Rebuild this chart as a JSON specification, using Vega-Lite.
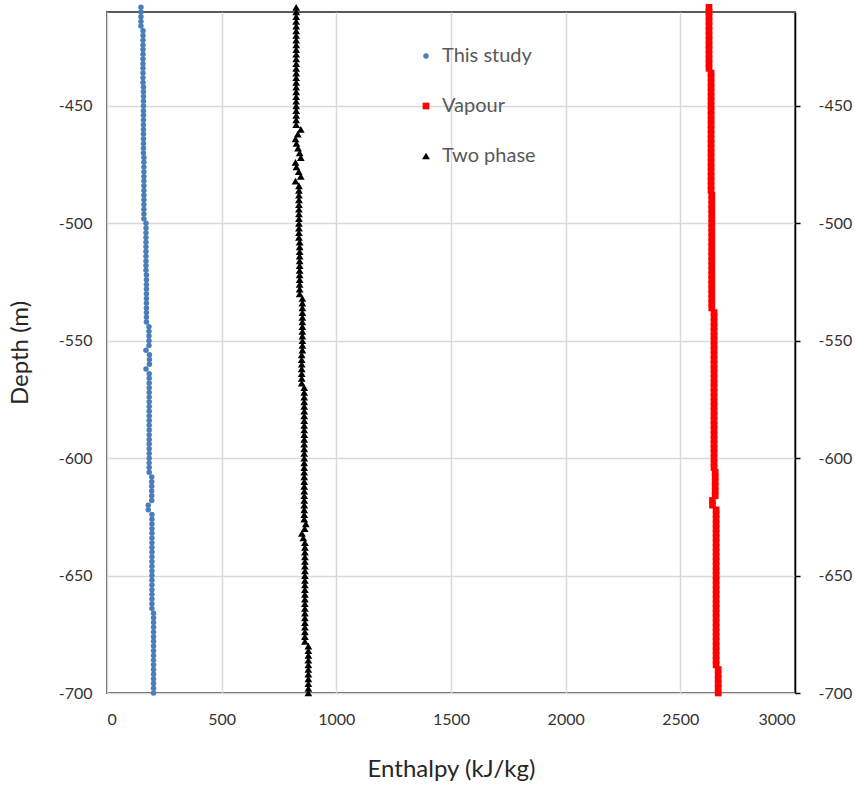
{
"$schema": "https://vega.github.io/schema/vega-lite/v6.json",
"width": 688, "height": 681,
"autosize": "none",
"padding": {"left": 107, "top": 12, "right": 60, "bottom": 94},
"background": "white",
"config": {
  "font": "Lato",
  "locale": {"number": {"decimal": ".", "thousands": "", "grouping": [3], "currency": ["$", ""], "minus": "-"}},
  "view": {"stroke": "#595959", "strokeWidth": 2},
  "axis": {"labelFont": "Lato", "titleFont": "Lato", "labelFontSize": 16, "labelColor": "#333333", "titleFontSize": 24, "titleFontWeight": "normal", "titleColor": "#262626", "gridColor": "#d9d9d9", "gridWidth": 1.5}
},
"data": {"values": [
{"d":-408,"This study":148,"Vapour":2625,"Two phase":825},
{"d":-410,"This study":148,"Vapour":2625,"Two phase":825},
{"d":-412,"This study":148,"Vapour":2625,"Two phase":825},
{"d":-414,"This study":148,"Vapour":2625,"Two phase":825},
{"d":-416,"This study":148,"Vapour":2625,"Two phase":825},
{"d":-418,"This study":157,"Vapour":2625,"Two phase":825},
{"d":-420,"This study":157,"Vapour":2625,"Two phase":825},
{"d":-422,"This study":157,"Vapour":2625,"Two phase":825},
{"d":-424,"This study":157,"Vapour":2625,"Two phase":825},
{"d":-426,"This study":157,"Vapour":2625,"Two phase":825},
{"d":-428,"This study":157,"Vapour":2625,"Two phase":825},
{"d":-430,"This study":157,"Vapour":2625,"Two phase":825},
{"d":-432,"This study":157,"Vapour":2625,"Two phase":825},
{"d":-434,"This study":157,"Vapour":2625,"Two phase":825},
{"d":-436,"This study":157,"Vapour":2634,"Two phase":825},
{"d":-438,"This study":157,"Vapour":2634,"Two phase":825},
{"d":-440,"This study":157,"Vapour":2634,"Two phase":825},
{"d":-442,"This study":159,"Vapour":2634,"Two phase":825},
{"d":-444,"This study":159,"Vapour":2634,"Two phase":825},
{"d":-446,"This study":159,"Vapour":2634,"Two phase":825},
{"d":-448,"This study":159,"Vapour":2634,"Two phase":825},
{"d":-450,"This study":159,"Vapour":2634,"Two phase":825},
{"d":-452,"This study":159,"Vapour":2634,"Two phase":825},
{"d":-454,"This study":159,"Vapour":2634,"Two phase":825},
{"d":-456,"This study":159,"Vapour":2634,"Two phase":825},
{"d":-458,"This study":159,"Vapour":2634,"Two phase":825},
{"d":-460,"This study":159,"Vapour":2634,"Two phase":845},
{"d":-462,"This study":159,"Vapour":2634,"Two phase":832},
{"d":-464,"This study":159,"Vapour":2634,"Two phase":822},
{"d":-466,"This study":159,"Vapour":2634,"Two phase":826},
{"d":-468,"This study":159,"Vapour":2634,"Two phase":833},
{"d":-470,"This study":159,"Vapour":2634,"Two phase":840},
{"d":-472,"This study":161,"Vapour":2634,"Two phase":845},
{"d":-474,"This study":161,"Vapour":2634,"Two phase":822},
{"d":-476,"This study":161,"Vapour":2634,"Two phase":826},
{"d":-478,"This study":161,"Vapour":2634,"Two phase":836},
{"d":-480,"This study":161,"Vapour":2634,"Two phase":845},
{"d":-482,"This study":161,"Vapour":2634,"Two phase":822},
{"d":-484,"This study":161,"Vapour":2634,"Two phase":837},
{"d":-486,"This study":161,"Vapour":2634,"Two phase":837},
{"d":-488,"This study":161,"Vapour":2637,"Two phase":837},
{"d":-490,"This study":161,"Vapour":2637,"Two phase":837},
{"d":-492,"This study":161,"Vapour":2637,"Two phase":837},
{"d":-494,"This study":161,"Vapour":2637,"Two phase":837},
{"d":-496,"This study":161,"Vapour":2637,"Two phase":837},
{"d":-498,"This study":161,"Vapour":2637,"Two phase":837},
{"d":-500,"This study":170,"Vapour":2637,"Two phase":837},
{"d":-502,"This study":170,"Vapour":2637,"Two phase":837},
{"d":-504,"This study":170,"Vapour":2637,"Two phase":837},
{"d":-506,"This study":170,"Vapour":2637,"Two phase":837},
{"d":-508,"This study":170,"Vapour":2637,"Two phase":840},
{"d":-510,"This study":170,"Vapour":2637,"Two phase":840},
{"d":-512,"This study":170,"Vapour":2637,"Two phase":840},
{"d":-514,"This study":170,"Vapour":2637,"Two phase":840},
{"d":-516,"This study":170,"Vapour":2637,"Two phase":840},
{"d":-518,"This study":170,"Vapour":2637,"Two phase":840},
{"d":-520,"This study":170,"Vapour":2637,"Two phase":840},
{"d":-522,"This study":172,"Vapour":2637,"Two phase":840},
{"d":-524,"This study":172,"Vapour":2637,"Two phase":840},
{"d":-526,"This study":172,"Vapour":2637,"Two phase":840},
{"d":-528,"This study":172,"Vapour":2637,"Two phase":840},
{"d":-530,"This study":172,"Vapour":2637,"Two phase":840},
{"d":-532,"This study":172,"Vapour":2637,"Two phase":852},
{"d":-534,"This study":172,"Vapour":2637,"Two phase":852},
{"d":-536,"This study":172,"Vapour":2637,"Two phase":852},
{"d":-538,"This study":172,"Vapour":2647,"Two phase":852},
{"d":-540,"This study":172,"Vapour":2647,"Two phase":852},
{"d":-542,"This study":172,"Vapour":2647,"Two phase":852},
{"d":-544,"This study":183,"Vapour":2647,"Two phase":852},
{"d":-546,"This study":183,"Vapour":2647,"Two phase":852},
{"d":-548,"This study":183,"Vapour":2647,"Two phase":852},
{"d":-550,"This study":183,"Vapour":2647,"Two phase":852},
{"d":-552,"This study":183,"Vapour":2647,"Two phase":852},
{"d":-554,"This study":170,"Vapour":2647,"Two phase":852},
{"d":-556,"This study":185,"Vapour":2647,"Two phase":849},
{"d":-558,"This study":185,"Vapour":2647,"Two phase":849},
{"d":-560,"This study":185,"Vapour":2647,"Two phase":849},
{"d":-562,"This study":170,"Vapour":2647,"Two phase":849},
{"d":-564,"This study":184,"Vapour":2647,"Two phase":849},
{"d":-566,"This study":184,"Vapour":2647,"Two phase":849},
{"d":-568,"This study":184,"Vapour":2647,"Two phase":849},
{"d":-570,"This study":184,"Vapour":2647,"Two phase":860},
{"d":-572,"This study":184,"Vapour":2647,"Two phase":860},
{"d":-574,"This study":184,"Vapour":2647,"Two phase":860},
{"d":-576,"This study":184,"Vapour":2647,"Two phase":860},
{"d":-578,"This study":184,"Vapour":2647,"Two phase":860},
{"d":-580,"This study":184,"Vapour":2647,"Two phase":860},
{"d":-582,"This study":184,"Vapour":2647,"Two phase":860},
{"d":-584,"This study":184,"Vapour":2647,"Two phase":860},
{"d":-586,"This study":184,"Vapour":2647,"Two phase":860},
{"d":-588,"This study":184,"Vapour":2647,"Two phase":860},
{"d":-590,"This study":184,"Vapour":2647,"Two phase":860},
{"d":-592,"This study":184,"Vapour":2647,"Two phase":860},
{"d":-594,"This study":184,"Vapour":2647,"Two phase":860},
{"d":-596,"This study":184,"Vapour":2647,"Two phase":860},
{"d":-598,"This study":184,"Vapour":2647,"Two phase":860},
{"d":-600,"This study":184,"Vapour":2647,"Two phase":860},
{"d":-602,"This study":184,"Vapour":2647,"Two phase":860},
{"d":-604,"This study":184,"Vapour":2647,"Two phase":860},
{"d":-606,"This study":184,"Vapour":2652,"Two phase":860},
{"d":-608,"This study":195,"Vapour":2652,"Two phase":860},
{"d":-610,"This study":195,"Vapour":2652,"Two phase":860},
{"d":-612,"This study":195,"Vapour":2652,"Two phase":860},
{"d":-614,"This study":195,"Vapour":2652,"Two phase":860},
{"d":-616,"This study":195,"Vapour":2652,"Two phase":860},
{"d":-618,"This study":195,"Vapour":2640,"Two phase":860},
{"d":-620,"This study":180,"Vapour":2640,"Two phase":860},
{"d":-622,"This study":180,"Vapour":2656,"Two phase":860},
{"d":-624,"This study":196,"Vapour":2656,"Two phase":860},
{"d":-626,"This study":196,"Vapour":2656,"Two phase":860},
{"d":-628,"This study":196,"Vapour":2656,"Two phase":867},
{"d":-630,"This study":196,"Vapour":2656,"Two phase":862},
{"d":-632,"This study":196,"Vapour":2656,"Two phase":850},
{"d":-634,"This study":196,"Vapour":2656,"Two phase":856},
{"d":-636,"This study":196,"Vapour":2656,"Two phase":863},
{"d":-638,"This study":196,"Vapour":2656,"Two phase":863},
{"d":-640,"This study":196,"Vapour":2656,"Two phase":863},
{"d":-642,"This study":196,"Vapour":2656,"Two phase":863},
{"d":-644,"This study":196,"Vapour":2656,"Two phase":863},
{"d":-646,"This study":196,"Vapour":2656,"Two phase":863},
{"d":-648,"This study":196,"Vapour":2656,"Two phase":863},
{"d":-650,"This study":196,"Vapour":2656,"Two phase":863},
{"d":-652,"This study":196,"Vapour":2656,"Two phase":863},
{"d":-654,"This study":196,"Vapour":2656,"Two phase":863},
{"d":-656,"This study":196,"Vapour":2656,"Two phase":863},
{"d":-658,"This study":196,"Vapour":2656,"Two phase":863},
{"d":-660,"This study":196,"Vapour":2656,"Two phase":863},
{"d":-662,"This study":196,"Vapour":2656,"Two phase":863},
{"d":-664,"This study":196,"Vapour":2656,"Two phase":863},
{"d":-666,"This study":203,"Vapour":2656,"Two phase":863},
{"d":-668,"This study":203,"Vapour":2656,"Two phase":863},
{"d":-670,"This study":203,"Vapour":2656,"Two phase":863},
{"d":-672,"This study":203,"Vapour":2656,"Two phase":863},
{"d":-674,"This study":203,"Vapour":2656,"Two phase":863},
{"d":-676,"This study":203,"Vapour":2656,"Two phase":863},
{"d":-678,"This study":203,"Vapour":2656,"Two phase":863},
{"d":-680,"This study":203,"Vapour":2656,"Two phase":878},
{"d":-682,"This study":203,"Vapour":2656,"Two phase":878},
{"d":-684,"This study":203,"Vapour":2656,"Two phase":878},
{"d":-686,"This study":203,"Vapour":2656,"Two phase":878},
{"d":-688,"This study":203,"Vapour":2656,"Two phase":878},
{"d":-690,"This study":203,"Vapour":2665,"Two phase":878},
{"d":-692,"This study":203,"Vapour":2665,"Two phase":878},
{"d":-694,"This study":203,"Vapour":2665,"Two phase":878},
{"d":-696,"This study":203,"Vapour":2665,"Two phase":878},
{"d":-698,"This study":203,"Vapour":2665,"Two phase":878},
{"d":-700,"This study":203,"Vapour":2665,"Two phase":878}
]},
"transform": [{"fold": ["This study", "Vapour", "Two phase"], "as": ["series", "h"]}],
"layer": [
  {
    "mark": {"type": "point", "filled": true, "opacity": 1, "clip": false},
    "encoding": {
      "x": {"field": "h", "type": "quantitative",
        "scale": {"domain": [0, 3000], "nice": false},
        "axis": {"title": "Enthalpy (kJ/kg)", "format": "d", "values": [0, 500, 1000, 1500, 2000, 2500, 3000], "grid": true, "ticks": false, "domain": false, "labelPadding": 18, "titlePadding": 30}},
      "y": {"field": "d", "type": "quantitative",
        "scale": {"domain": [-700, -410], "nice": false, "zero": false},
        "axis": {"orient": "left", "title": "Depth (m)", "format": "d", "values": [-700, -650, -600, -550, -500, -450], "grid": true, "ticks": false, "domain": false, "labelPadding": 15, "titlePadding": 26}},
      "color": {"field": "series", "type": "nominal",
        "scale": {"domain": ["This study", "Vapour", "Two phase"], "range": ["#4a7ebb", "#ff0000", "#000000"]},
        "legend": {"title": null, "orient": "none", "legendX": 309, "legendY": 34, "padding": 0, "labelFontSize": 20, "labelColor": "#595959", "labelFont": "Lato", "rowPadding": 30, "labelOffset": 6}},
      "shape": {"field": "series", "type": "nominal",
        "scale": {"domain": ["This study", "Vapour", "Two phase"], "range": ["circle", "square", "triangle-up"]}},
      "size": {"field": "series", "type": "nominal",
        "scale": {"domain": ["This study", "Vapour", "Two phase"], "range": [30, 60, 30]}}
    }
  },
  {
    "mark": {"type": "point", "opacity": 0},
    "encoding": {
      "y": {"field": "d", "type": "quantitative",
        "scale": {"domain": [-700, -410], "nice": false, "zero": false},
        "axis": {"orient": "right", "title": null, "format": "d", "values": [-700, -650, -600, -550, -500, -450], "grid": false, "ticks": true, "tickSize": 5, "tickColor": "#000000", "tickWidth": 1.5, "domain": true, "domainColor": "#000000", "domainWidth": 1.5, "labelPadding": 18}}
    }
  }
],
"resolve": {"axis": {"y": "independent"}}
}
